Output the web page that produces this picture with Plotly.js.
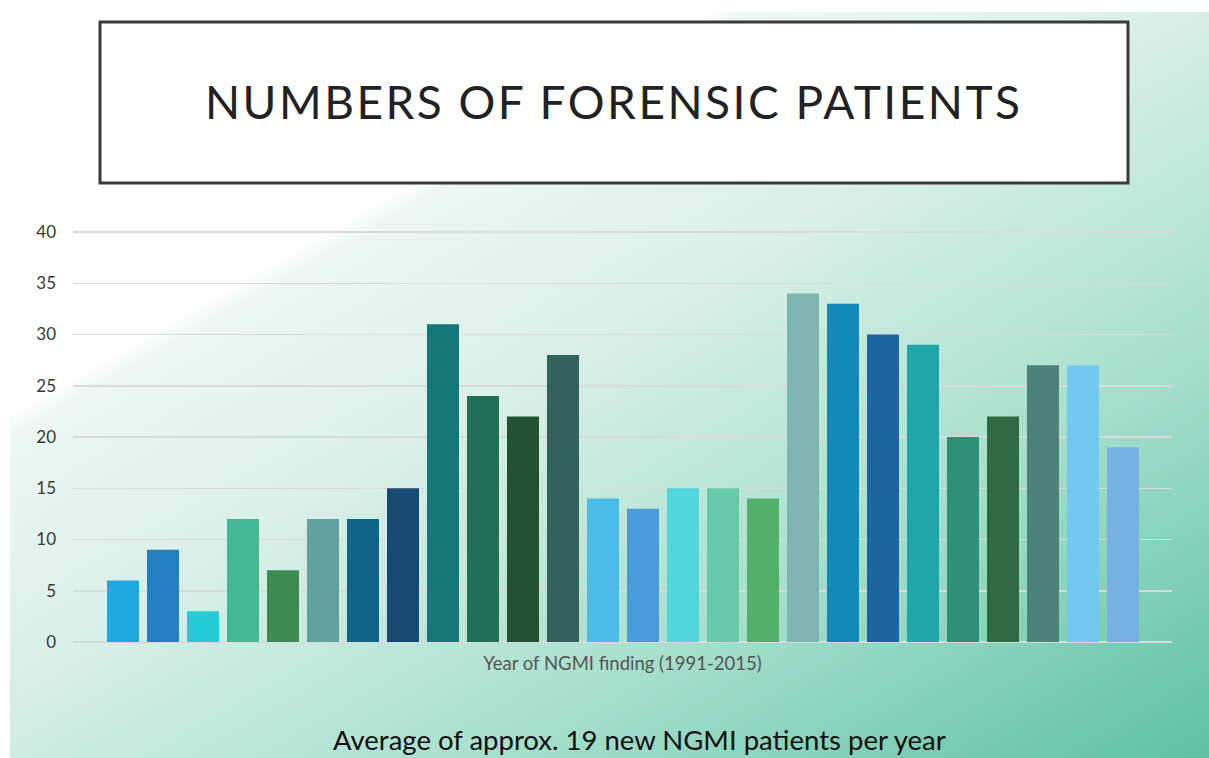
<!DOCTYPE html>
<html>
<head>
<meta charset="utf-8">
<script src="https://cdn.plot.ly/plotly-3.0.1.min.js"></script>
<style>
  html, body { margin: 0; padding: 0; width: 1209px; height: 758px; overflow: hidden; background: #ffffff; }
  #bg { position: absolute; left: 10px; top: 12px; width: 1199px; height: 746px;
        background: linear-gradient(150deg, #ffffff 0%, #ffffff 28%, #eef7f3 29.5%, #d8efe7 47%, #bfe7da 59%, #a6dfcd 71%, #6cc7ab 94%, #5ec2a4 100%); }
  #chart { position: absolute; left: 0; top: 0; width: 1209px; height: 758px; }
  .annotation[data-index="0"] text { letter-spacing: 2.5px; }
</style>
</head>
<body>
<div id="bg"></div>
<div id="chart"></div>
<script>
// Data
const barLabels = ["1","2","3","4","5","6","7","8","9","10","11","12","13","14","15","16","17","18","19","20","21","22","23","24","25","26"];
const patientCounts = [6, 9, 3, 12, 7, 12, 12, 15, 31, 24, 22, 28, 14, 13, 15, 15, 14, 34, 33, 30, 29, 20, 22, 27, 27, 19];
const barColors = ["#1ea9e1","#2580c3","#25cbd5","#42b894","#3e8a52","#62a29e","#0f6488","#174a72",
                   "#167779","#226f58","#235232","#33625c","#4bbbe8","#4a9bdb","#52d6dd","#67c9a9",
                   "#52b06a","#7fb5b0","#1389b7","#1c65a0","#1ea6ab","#2f9076","#2f6b42","#4d827c",
                   "#72c9ed","#77b1e2"];
const yTicks = [0, 5, 10, 15, 20, 25, 30, 35, 40];
const chartTitle = "NUMBERS OF FORENSIC PATIENTS";
const xAxisTitle = "Year of NGMI finding (1991-2015)";
const footnote = "Average of approx. 19 new NGMI patients per year";

const xIdx = barLabels.map((_, i) => i);

const trace = {
  type: "bar",
  x: xIdx,
  y: patientCounts,
  marker: { color: barColors, line: { width: 0 } },
  width: 0.8,
  hoverinfo: "y"
};

const PH = 412; // plot height in px
const py = (y) => (642 - y) / PH;
const px = (x) => (x - 73) / 1099;

const layout = {
  width: 1209,
  height: 758,
  margin: { l: 73, r: 37, t: 230, b: 116 },
  paper_bgcolor: "rgba(0,0,0,0)",
  plot_bgcolor: "rgba(0,0,0,0)",
  showlegend: false,
  font: { family: "Lato, 'Open Sans', sans-serif", color: "#444444" },
  xaxis: {
    range: [-1.25, 26.225],
    showticklabels: false,
    showgrid: false,
    zeroline: false,
    showline: false,
    ticks: "",
    title: { text: xAxisTitle, font: { size: 18.5, color: "#555555" }, standoff: 15 }
  },
  yaxis: {
    range: [0, 40.2],
    tickvals: yTicks,
    ticktext: yTicks.map(String),
    showgrid: true,
    gridcolor: "#d9dadb",
    gridwidth: 1.5,
    zeroline: true,
    zerolinecolor: "#d9dadb",
    zerolinewidth: 1.5,
    showline: false,
    ticks: "",
    ticklabelstandoff: 16,
    tickfont: { size: 17, color: "#383838" }
  },
  shapes: [
    {
      type: "rect", xref: "paper", yref: "paper",
      x0: px(100), x1: px(1128),
      y0: py(183), y1: py(22),
      fillcolor: "#ffffff",
      line: { color: "#3a3a3a", width: 3 },
      layer: "above"
    }
  ],
  annotations: [
    {
      text: chartTitle, xref: "paper", yref: "paper",
      x: px(613), y: py(102),
      xanchor: "center", yanchor: "middle", showarrow: false,
      font: { size: 46, color: "#222222", family: "Lato, 'Open Sans', sans-serif" }
    },
    {
      text: footnote, xref: "paper", yref: "paper",
      x: px(639), y: py(739),
      xanchor: "center", yanchor: "middle", showarrow: false,
      font: { size: 27.5, color: "#111111", family: "Lato, 'Open Sans', sans-serif" }
    }
  ]
};

Plotly.newPlot("chart", [trace], layout, { displayModeBar: false, staticPlot: true });
</script>
</body>
</html>
